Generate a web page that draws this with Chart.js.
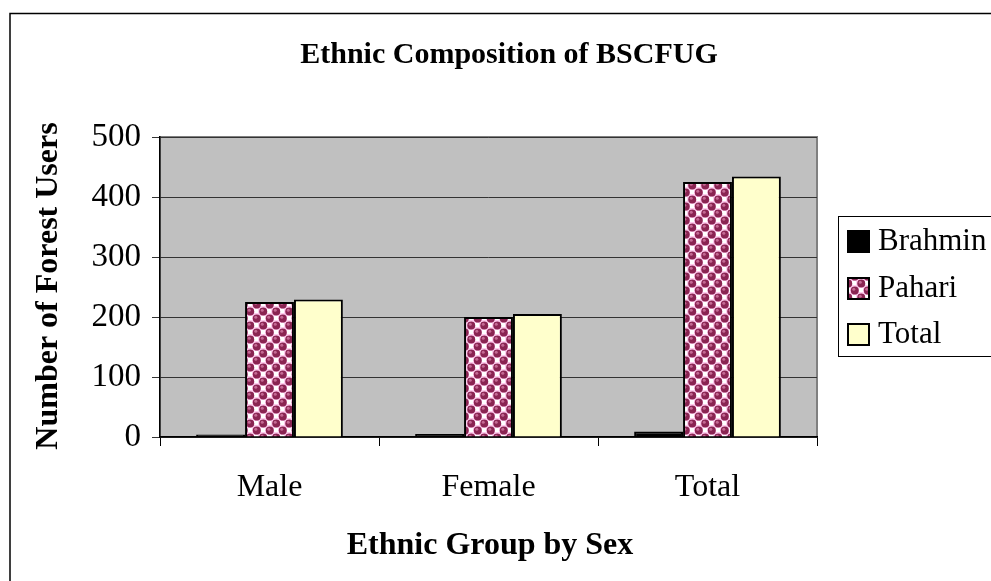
<!DOCTYPE html>
<html>
<head>
<meta charset="utf-8">
<title>Ethnic Composition of BSCFUG</title>
<script src="https://cdn.jsdelivr.net/npm/chart.js@4/dist/chart.umd.min.js"></script>
<style>
  html, body { margin: 0; padding: 0; background: #fff; }
  #wrap { width: 991px; height: 581px; position: relative; }
</style>
</head>
<body>
<div id="wrap"><canvas id="chart" width="991" height="581"></canvas></div>
<script>
// Data: forest users by ethnic group and sex
const categories = ['Male', 'Female', 'Total'];
const seriesNames = ['Brahmin', 'Pahari', 'Total'];
const brahmin = [4, 5, 9];
const pahari = [225, 200, 425];
const total = [229, 205, 434];
const yTicks = [0, 100, 200, 300, 400, 500];

const chartTitle = 'Ethnic Composition of BSCFUG';
const xTitle = 'Ethnic Group by Sex';
const yTitle = 'Number of Forest Users';

const SERIF = '"Liberation Serif", "Times New Roman", serif';

// Spotted fill used for the Pahari bars
function makeSpherePattern() {
  const w = 13, h = 14;
  const t = document.createElement('canvas');
  t.width = w; t.height = h;
  const c = t.getContext('2d');
  c.fillStyle = '#ffccee';
  c.fillRect(0, 0, w, h);
  c.fillStyle = '#ffffff';
  c.fillRect(7, 1, 4, 4);
  c.fillRect(1, 8, 4, 4);
  const dots = [[3.25, 3.5], [9.75, 10.5], [9.75 - 13, 10.5], [3.25 + 13, 3.5],
                [3.25, 3.5 + 14], [9.75, 10.5 - 14]];
  dots.forEach(([x, y]) => {
    c.beginPath();
    c.arc(x, y, 4.0, 0, Math.PI * 2);
    c.fillStyle = '#8a2452';
    c.fill();
    c.beginPath();
    c.arc(x - 1, y - 1.2, 1.5, 0, Math.PI * 2);
    c.fillStyle = '#c46a94';
    c.fill();
  });
  return c.createPattern(t, 'repeat');
}

const ctx = document.getElementById('chart').getContext('2d');
const fills = ['#000000', makeSpherePattern(), '#ffffcc'];

// Grey plot area with its frame
const plotBackground = {
  id: 'plotBackground',
  beforeDraw(chart) {
    const { ctx, chartArea: a } = chart;
    ctx.save();
    ctx.fillStyle = '#c0c0c0';
    ctx.fillRect(a.left, a.top, a.right - a.left, a.bottom - a.top);
    ctx.strokeStyle = '#808080';
    ctx.lineWidth = 2;
    ctx.strokeRect(a.left, a.top, a.right - a.left, a.bottom - a.top);
    ctx.restore();
  }
};

// Outer frame, titles and boxed legend
const decorations = {
  id: 'decorations',
  afterDraw(chart) {
    const { ctx } = chart;
    ctx.save();
    // outer frame (top and left edges are visible)
    ctx.strokeStyle = '#000';
    ctx.lineWidth = 1.5;
    ctx.beginPath();
    ctx.moveTo(10, 581);
    ctx.lineTo(10, 13.5);
    ctx.lineTo(991, 13.5);
    ctx.stroke();

    ctx.fillStyle = '#000';
    ctx.textAlign = 'center';
    ctx.textBaseline = 'alphabetic';
    ctx.font = 'bold 30px ' + SERIF;
    ctx.fillText(chartTitle, 509, 63);

    ctx.font = 'bold 32px ' + SERIF;
    ctx.fillText(xTitle, 490, 554);

    ctx.save();
    ctx.translate(57, 286);
    ctx.rotate(-Math.PI / 2);
    ctx.fillText(yTitle, 0, 0);
    ctx.restore();

    // legend
    ctx.lineWidth = 1;
    ctx.strokeStyle = '#000';
    ctx.fillStyle = '#fff';
    ctx.fillRect(838.5, 216.5, 170, 140);
    ctx.strokeRect(838.5, 216.5, 170, 140);
    ctx.textAlign = 'left';
    ctx.textBaseline = 'middle';
    ctx.font = '31px ' + SERIF;
    const rowsY = [241, 288, 334];
    chart.data.datasets.forEach((ds, i) => {
      const y = rowsY[i];
      ctx.fillStyle = ds.backgroundColor;
      ctx.fillRect(848, y - 10, 21, 21);
      ctx.lineWidth = 2;
      ctx.strokeStyle = '#000';
      ctx.strokeRect(848, y - 10, 21, 21);
      ctx.fillStyle = '#000';
      ctx.fillText(ds.label, 878, y + 1);
    });
    ctx.restore();
  }
};

new Chart(ctx, {
  type: 'bar',
  data: {
    labels: categories,
    datasets: [brahmin, pahari, total].map((vals, i) => ({
      label: seriesNames[i],
      data: vals,
      backgroundColor: fills[i],
      borderColor: '#000',
      borderWidth: 2,
      borderSkipped: 'bottom',
      categoryPercentage: 0.67,
      barPercentage: 1.0
    }))
  },
  options: {
    responsive: false,
    animation: false,
    devicePixelRatio: 1,
    layout: { padding: { left: 0, top: 137, right: 174, bottom: 0 } },
    plugins: {
      legend: { display: false },
      title: { display: false },
      tooltip: { enabled: false }
    },
    scales: {
      x: {
        offset: true,
        grid: {
          offset: true,
          drawOnChartArea: false,
          drawTicks: true,
          tickLength: 9,
          color: '#000',
          lineWidth: 1
        },
        border: { display: true, color: '#000', width: 1.5 },
        ticks: {
          color: '#000',
          padding: 22,
          font: { family: SERIF, size: 32 }
        },
        afterFit(scale) { scale.height = 144; }
      },
      y: {
        min: 0,
        max: 500,
        afterBuildTicks(scale) { scale.ticks = yTicks.map(v => ({ value: v })); },
        grid: {
          color: '#333',
          lineWidth: 1,
          drawTicks: true,
          tickLength: 8
        },
        border: { display: true, color: '#000', width: 1.5 },
        ticks: {
          color: '#000',
          padding: 11,
          font: { family: SERIF, size: 33 }
        },
        afterFit(scale) { scale.width = 160; }
      }
    }
  },
  plugins: [plotBackground, decorations]
});
</script>
</body>
</html>
